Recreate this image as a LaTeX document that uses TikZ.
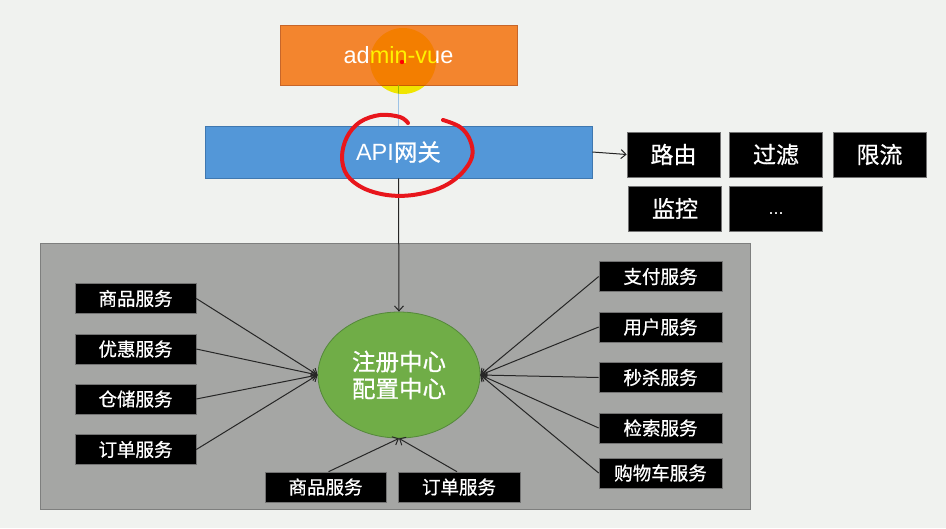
\documentclass[tikz,border=0pt]{standalone}
\usepackage{fontspec}
\setmainfont{Liberation Sans}
\newfontfamily\cjk[FakeBold=0.7]{Noto Sans CJK SC}
\usetikzlibrary{shapes.geometric,arrows.meta}

\definecolor{pagebg}{HTML}{F0F2EF}
\definecolor{vueorange}{HTML}{F3852E}
\definecolor{vueedge}{HTML}{C7662A}
\definecolor{gwblue}{HTML}{5397D8}
\definecolor{gwedge}{HTML}{3F78B0}
\definecolor{linkblue}{HTML}{9DC3E6}
\definecolor{panelgray}{HTML}{A5A6A4}
\definecolor{paneledge}{HTML}{7E7F7E}
\definecolor{regcolor}{HTML}{70AD47}
\definecolor{regedge}{HTML}{54883A}
\definecolor{inkred}{HTML}{E8161C}
\definecolor{hilite}{HTML}{FFF200}

\tikzset{
  svc/.style={fill=black, draw=black!55, line width=0.6pt, text=white,
    minimum width=121pt, minimum height=30pt, inner sep=0pt,
    font=\cjk\fontsize{18.5}{20}\selectfont},
  feature/.style={fill=black, draw=black!55, line width=0.6pt, text=white,
    minimum width=93pt, minimum height=45pt, inner sep=0pt,
    font=\cjk\fontsize{23}{26}\selectfont},
  link/.style={draw=black!85, line width=1pt,
    -{Straight Barb[length=5pt,width=9pt]}},
}

\begin{document}
\begin{tikzpicture}[x=1pt,y=-1pt]
  % page
  \fill[pagebg] (0,0) rectangle (946,528);
  \useasboundingbox (0,0) rectangle (946,528);

  % client and gateway
  \node[fill=vueorange, draw=vueedge, line width=0.6pt, text=white,
        minimum width=237pt, minimum height=60pt, inner sep=0pt,
        font=\fontsize{23.5}{26}\selectfont] (vue) at (398.5,55) {admin-vue};
  \node[fill=gwblue, draw=gwedge, line width=0.6pt, text=white,
        minimum width=387pt, minimum height=52pt, inner sep=0pt,
        font=\fontsize{23.5}{26}\selectfont] (gw) at (398.5,152) {API{\cjk 网关}};
  \draw[linkblue, line width=1pt] (vue.south) -- (gw.north);

  % gateway features
  \node[feature] (route)  at (673.5,154.5) {路由};
  \node[feature] (filter) at (776,154.5)   {过滤};
  \node[feature] (limit)  at (879.5,154.5) {限流};
  \node[feature] (watch)  at (675,208.5)   {监控};
  \node[feature, font=\fontsize{18}{20}\selectfont] (more) at (776,208.5)
       {\raisebox{-6pt}[0pt][0pt]{...}};
  \draw[link] (gw.east) -- (route.west);

  % service area
  \node[fill=panelgray, draw=paneledge, line width=1pt,
        minimum width=710pt, minimum height=266pt, inner sep=0pt]
        (panel) at (395,376.5) {};

  \node[ellipse, fill=regcolor, draw=regedge, line width=0.8pt, text=white,
        minimum width=162pt, minimum height=126pt, inner sep=0pt, align=center,
        font=\cjk\fontsize{23.5}{27}\selectfont] (reg) at (399,375) {注册中心\\配置中心};
  \draw[link] (gw.south) -- (reg.north);

  % left column
  \node[svc] (l1) at (135.5,298.5) {商品服务};
  \node[svc] (l2) at (135.5,349)   {优惠服务};
  \node[svc] (l3) at (135.5,399)   {仓储服务};
  \node[svc] (l4) at (135.5,449.5) {订单服务};
  \foreach \n in {l1,l2,l3,l4} \draw[link] (\n.east) -- (reg.west);

  % bottom row
  \node[svc] (b1) at (325.5,487) {商品服务};
  \node[svc, minimum width=122pt] (b2) at (459,487) {订单服务};
  \draw[link] (b1.north) ++(3,0) -- (reg.south);
  \draw[link] (b2.north) ++(-2,0) -- (reg.south);

  % right column
  \node[svc, minimum width=123pt] (r1) at (660.5,276.5) {支付服务};
  \node[svc, minimum width=123pt] (r2) at (660.5,327)   {用户服务};
  \node[svc, minimum width=123pt] (r3) at (660.5,377.5) {秒杀服务};
  \node[svc, minimum width=123pt] (r4) at (660.5,428)   {检索服务};
  \node[svc, minimum width=123pt] (r5) at (660.5,473)   {购物车服务};
  \foreach \n in {r1,r2,r3,r4,r5} \draw[link] (\n.west) -- (reg.east);

  % pointer highlight over the client box
  \fill[hilite, blend mode=multiply] (403,61) circle (33);
  \fill[red] (402,62) circle (2.2);

  % hand-drawn ring around the gateway label
  \draw[inkred, line width=4pt, line cap=round, line join=round]
    plot[smooth, tension=0.6] coordinates {
      (408,123) (400,117) (380,115) (360,122) (347,137) (342,157)
      (347,175) (363,188) (387,195) (413,195) (440,188) (460,175)
      (472,157) (470,140) (460,127) (443,120)};
\end{tikzpicture}
\end{document}
